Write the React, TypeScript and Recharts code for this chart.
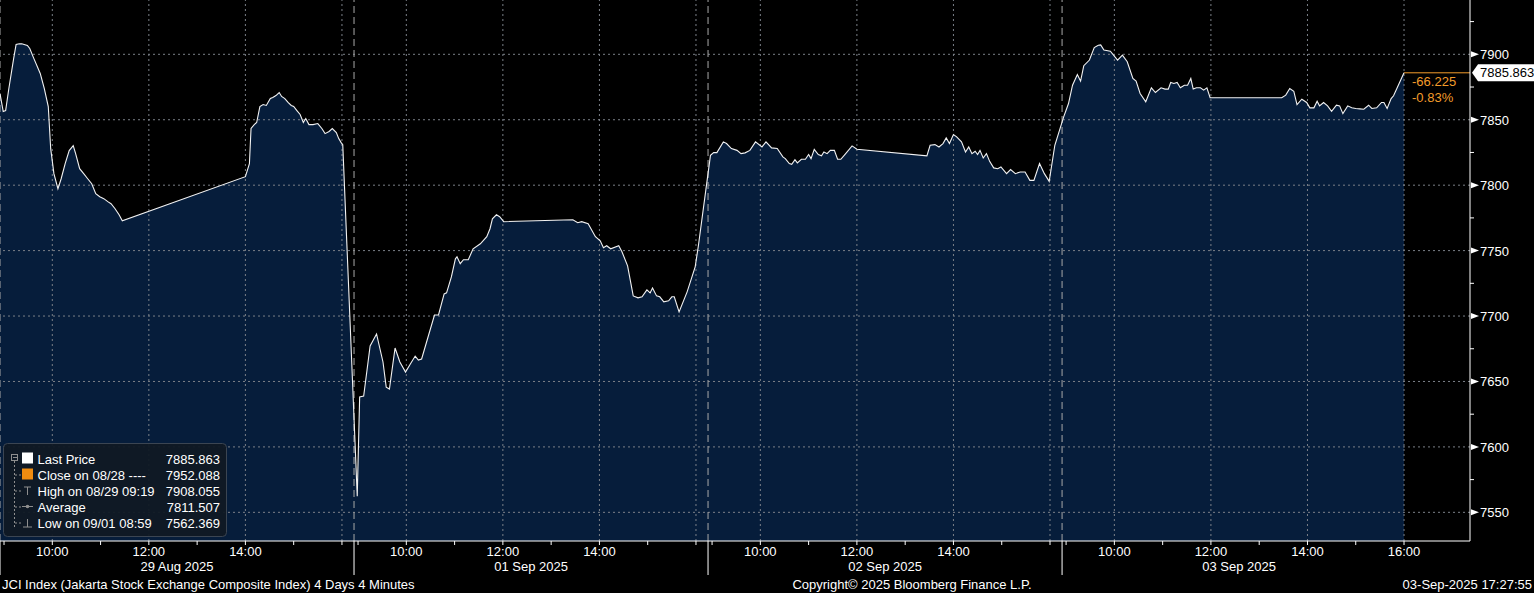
import React from 'react';
import { ComposedChart, Area, Line, XAxis, YAxis, ReferenceLine } from 'recharts';

// ---------- data ----------
const DAY_LABELS = ['29 Aug 2025', '01 Sep 2025', '02 Sep 2025', '03 Sep 2025'];

const aug29: [string, number][] = [
  ['08:55', 7870.0], ['08:59', 7856.3], ['09:02', 7857.0], ['09:06', 7873.9], ['09:10', 7889.2],
  ['09:12', 7896.9], ['09:15', 7907.6], ['09:19', 7908.055], ['09:22', 7908.0], ['09:29', 7906.8],
  ['09:32', 7904.5], ['09:37', 7896.9], ['09:45', 7885.4], ['09:50', 7873.9], ['09:55', 7860.1],
  ['09:58', 7827.9], ['10:02', 7808.8], ['10:07', 7797.3], ['10:11', 7804.9], ['10:16', 7816.4],
  ['10:21', 7826.4], ['10:26', 7830.2], ['10:29', 7824.1], ['10:34', 7812.6], ['10:39', 7808.8],
  ['10:44', 7804.9], ['10:49', 7801.1], ['10:54', 7793.5], ['10:59', 7791.2], ['11:04', 7789.7],
  ['11:09', 7787.4], ['11:13', 7785.8], ['11:18', 7782.0], ['11:23', 7777.4], ['11:27', 7772.8],
  ['14:00', 7806.5], ['14:05', 7816.4], ['14:07', 7843.3], ['14:11', 7846.3], ['14:14', 7847.9],
  ['14:18', 7860.1], ['14:22', 7861.6], ['14:26', 7860.9], ['14:31', 7866.2], ['14:34', 7867.0],
  ['14:38', 7868.5], ['14:42', 7870.8], ['14:45', 7867.8], ['14:49', 7866.2], ['14:53', 7863.2],
  ['14:57', 7860.9], ['15:00', 7860.1], ['15:04', 7857.0], ['15:08', 7854.0], ['15:12', 7847.9],
  ['15:15', 7850.9], ['15:19', 7846.3], ['15:24', 7846.3], ['15:30', 7847.1], ['15:35', 7843.3],
  ['15:39', 7839.4], ['15:44', 7841.0], ['15:48', 7843.3], ['15:53', 7840.2], ['15:56', 7835.6],
  ['15:59', 7832.5], ['16:01', 7831.0],
];

const sep01: [string, number][] = [
  ['08:59', 7562.369], ['09:02', 7638.1], ['09:07', 7638.8], ['09:15', 7677.1], ['09:23', 7686.3],
  ['09:31', 7664.9], ['09:35', 7645.7], ['09:39', 7644.2], ['09:46', 7675.6], ['09:52', 7664.9],
  ['09:59', 7657.2], ['10:05', 7663.3], ['10:11', 7669.4], ['10:15', 7666.4], ['10:19', 7667.2],
  ['10:27', 7684.0], ['10:35', 7700.8], ['10:40', 7700.8], ['10:47', 7716.9], ['10:50', 7717.7],
  ['10:56', 7729.9], ['11:01', 7743.7], ['11:03', 7745.3], ['11:07', 7740.0], ['11:11', 7743.0],
  ['11:17', 7743.0], ['11:23', 7751.4], ['11:32', 7755.2], ['11:40', 7760.6], ['11:44', 7766.7],
  ['11:47', 7774.3], ['11:52', 7777.4], ['11:56', 7775.9], ['12:01', 7772.1], ['13:27', 7773.6],
  ['13:33', 7771.3], ['13:38', 7772.1], ['13:46', 7770.6], ['13:55', 7760.6], ['14:01', 7757.5],
  ['14:05', 7752.2], ['14:09', 7753.7], ['14:14', 7751.4], ['14:24', 7753.7], ['14:28', 7749.1],
  ['14:35', 7738.4], ['14:42', 7715.4], ['14:48', 7713.9], ['14:53', 7714.7], ['14:59', 7720.0],
  ['15:03', 7717.7], ['15:06', 7721.5], ['15:11', 7715.4], ['15:15', 7714.7], ['15:20', 7710.8],
  ['15:26', 7711.6], ['15:30', 7714.7], ['15:33', 7714.7], ['15:39', 7703.1], ['15:49', 7718.5],
  ['15:59', 7737.6], ['16:03', 7753.7],
];

const sep02: [string, number][] = [
  ['08:58', 7822.8], ['09:02', 7824.9], ['09:06', 7824.9], ['09:14', 7833.1], ['09:18', 7831.8],
  ['09:24', 7828.0], ['09:31', 7826.6], ['09:36', 7824.1], ['09:41', 7824.7], ['09:47', 7826.6],
  ['09:54', 7833.1], ['10:02', 7829.2], ['10:07', 7833.1], ['10:14', 7828.5], ['10:21', 7828.0],
  ['10:28', 7821.6], ['10:31', 7820.3], ['10:36', 7816.5], ['10:39', 7815.9], ['10:43', 7819.5],
  ['10:46', 7817.0], ['10:51', 7819.8], ['10:56', 7819.8], ['11:00', 7823.4], ['11:03', 7820.3],
  ['11:07', 7827.4], ['11:12', 7823.4], ['11:16', 7822.4], ['11:19', 7825.4], ['11:23', 7824.1],
  ['11:27', 7826.6], ['11:32', 7826.6], ['11:36', 7819.8], ['11:40', 7819.8], ['11:45', 7823.4],
  ['11:54', 7830.0], ['12:00', 7827.4], ['13:27', 7822.4], ['13:31', 7830.5], ['13:37', 7831.0],
  ['13:42', 7829.2], ['13:47', 7831.8], ['13:51', 7836.1], ['13:55', 7831.8], ['14:00', 7838.7],
  ['14:04', 7836.9], ['14:10', 7833.1], ['14:15', 7825.4], ['14:19', 7829.2], ['14:23', 7824.1],
  ['14:27', 7825.9], ['14:30', 7823.4], ['14:33', 7826.6], ['14:37', 7820.8], ['14:41', 7824.1],
  ['14:45', 7818.2], ['14:50', 7813.2], ['14:55', 7812.6], ['14:59', 7813.9], ['15:06', 7808.8],
  ['15:11', 7811.9], ['15:17', 7808.8], ['15:23', 7810.1], ['15:29', 7810.1], ['15:35', 7803.7],
  ['15:40', 7803.7], ['15:47', 7816.5], ['15:53', 7808.8], ['15:59', 7802.9], ['16:06', 7830.5],
];

const sep03: [string, number][] = [
  ['08:57', 7852.2], ['09:03', 7862.4], ['09:08', 7876.4], ['09:14', 7884.6], ['09:18', 7879.5],
  ['09:22', 7891.3], ['09:29', 7895.6], ['09:35', 7905.1], ['09:40', 7906.9], ['09:43', 7907.2],
  ['09:47', 7903.2], ['09:55', 7902.4], ['10:04', 7895.6], ['10:10', 7899.4], ['10:16', 7894.3],
  ['10:23', 7881.5], ['10:27', 7879.5], ['10:32', 7870.1], ['10:39', 7863.7], ['10:46', 7874.4],
  ['10:51', 7870.8], ['10:58', 7874.4], ['11:03', 7873.4], ['11:07', 7873.4], ['11:10', 7878.5],
  ['11:14', 7877.7], ['11:18', 7878.5], ['11:22', 7874.4], ['11:27', 7876.4], ['11:31', 7876.4],
  ['11:35', 7881.5], ['11:38', 7873.4], ['11:42', 7874.4], ['11:47', 7874.4], ['11:51', 7872.6],
  ['11:55', 7874.4], ['11:59', 7866.8], ['13:28', 7866.8], ['13:33', 7868.8], ['13:38', 7873.9],
  ['13:43', 7871.8], ['13:47', 7861.6], ['13:53', 7865.7], ['13:59', 7863.2], ['14:03', 7859.1],
  ['14:08', 7859.1], ['14:12', 7864.2], ['14:15', 7860.6], ['14:20', 7863.2], ['14:25', 7860.6],
  ['14:30', 7856.5], ['14:36', 7861.1], ['14:40', 7860.6], ['14:44', 7854.7], ['14:50', 7860.6],
  ['14:55', 7859.1], ['15:00', 7858.6], ['15:05', 7858.3], ['15:10', 7858.0], ['15:16', 7861.1],
  ['15:20', 7858.6], ['15:26', 7859.1], ['15:32', 7863.2], ['15:35', 7863.2], ['15:39', 7858.6],
  ['15:44', 7866.2], ['15:47', 7868.3], ['16:00', 7885.863],
];

const DAYS = [aug29, sep01, sep02, sep03];

const LAST_PRICE = 7885.863;
const PREV_CLOSE = 7952.088;
const CHANGE = -66.225;
const CHANGE_PCT = '-0.83%';
const HIGH = 7908.055;
const AVERAGE = 7811.507;
const LOW = 7562.369;

const Y_MAJOR = [7550, 7600, 7650, 7700, 7750, 7800, 7850, 7900];
const Y_MINOR = [7575, 7625, 7675, 7725, 7775, 7825, 7875, 7925];
const HOUR_TICKS = [9, 10, 11, 12, 13, 14, 15, 16];
const GRID_HOURS = [10, 12, 14, 16];
const LABEL_HOURS = [10, 12, 14];

// session axis: each day runs 08:55 -> 16:15 (440 minutes)
const SESSION_START = 8 * 60 + 55;
const SESSION_LEN = 440;
const X_MAX = 1827;
const Y_DOMAIN: [number, number] = [7528.1, 7941.5];

const toMin = (t: string) => {
  const [h, m] = t.split(':').map(Number);
  return h * 60 + m;
};
const dayX = (d: number, minutes: number) => d * SESSION_LEN + minutes - SESSION_START;

const data = DAYS.flatMap((day, d) => day.map(([t, v]) => ({ x: dayX(d, toMin(t)), v })));
const LAST_X = data[data.length - 1].x;

// ---------- x axis tick catalogue ----------
type XKind = { type: 'hour'; label?: string } | { type: 'sep' } | { type: 'date'; label: string };
const xKinds = new Map<number, XKind>();
DAY_LABELS.forEach((lab, d) => {
  xKinds.set(dayX(d, SESSION_START), { type: 'sep' });
  xKinds.set(d * SESSION_LEN + SESSION_LEN / 2, { type: 'date', label: lab });
  HOUR_TICKS.forEach((h) => {
    const show = LABEL_HOURS.includes(h) || (d === DAY_LABELS.length - 1 && h === 16);
    xKinds.set(dayX(d, h * 60), { type: 'hour', label: show ? `${h}:00` : undefined });
  });
});
const X_TICKS = Array.from(xKinds.keys()).sort((a, b) => a - b);
const V_GRID = DAY_LABELS.flatMap((_, d) => GRID_HOURS.map((h) => dayX(d, h * 60)));
const DAY_SEPS = DAY_LABELS.map((_, d) => d * SESSION_LEN);

const FONT = "'Liberation Sans', Arial, sans-serif";
const ORANGE = '#f39c2b';
const GRID = '#7b8088';

const XTick = (props: any) => {
  const { x, y, payload } = props;
  const k = xKinds.get(payload.value);
  if (!k) return null;
  if (k.type === 'sep') return <line x1={x} x2={x} y1={y} y2={y + 34} stroke="#ffffff" strokeWidth={1} />;
  if (k.type === 'date')
    return (
      <text x={x} y={y + 30} textAnchor="middle" fill="#ffffff" fontSize={13} fontFamily={FONT}>
        {k.label}
      </text>
    );
  return (
    <g>
      <line x1={x} x2={x} y1={y} y2={y + 4} stroke="#ffffff" strokeWidth={1} />
      {k.label && (
        <text x={x} y={y + 15} textAnchor="middle" fill="#ffffff" fontSize={13} fontFamily={FONT}>
          {k.label}
        </text>
      )}
    </g>
  );
};

const YTick = (props: any) => {
  const { x, y, payload } = props;
  const v = payload.value;
  if (v === LAST_PRICE) {
    return (
      <g>
        <path d={`M${x + 2},${y} L${x + 8},${y - 8.5} L${x + 64},${y - 8.5} L${x + 64},${y + 8.5} L${x + 8},${y + 8.5} Z`} fill="#ffffff" />
        <text x={x + 10} y={y + 4.5} fill="#000000" fontSize={13} fontFamily={FONT}>
          {LAST_PRICE.toFixed(3)}
        </text>
      </g>
    );
  }
  if (Y_MAJOR.includes(v)) {
    return (
      <g>
        <path d={`M${x + 1},${y - 3} L${x + 9},${y} L${x + 1},${y + 3} Z`} fill="#ffffff" />
        <text x={x + 10} y={y + 5} fill="#ffffff" fontSize={13} fontFamily={FONT}>
          {v}
        </text>
      </g>
    );
  }
  return <line x1={x} x2={x + 4} y1={y} y2={y} stroke="#ffffff" strokeWidth={1} />;
};

const ChangeLabel = (props: any) => {
  const vb = props.viewBox || {};
  const x = (vb.x ?? 0) + 8;
  const y = vb.y ?? 0;
  return (
    <g>
      <text x={x} y={y + 13} fill={ORANGE} fontSize={13} fontFamily={FONT}>
        {CHANGE.toFixed(3)}
      </text>
      <text x={x} y={y + 29} fill={ORANGE} fontSize={13} fontFamily={FONT}>
        {CHANGE_PCT}
      </text>
    </g>
  );
};

const LEGEND_ROWS = [
  { label: 'Last Price', value: LAST_PRICE.toFixed(3) },
  { label: 'Close on 08/28 ----', value: PREV_CLOSE.toFixed(3) },
  { label: 'High on 08/29 09:19', value: HIGH.toFixed(3) },
  { label: 'Average', value: AVERAGE.toFixed(3) },
  { label: 'Low on 09/01 08:59', value: LOW.toFixed(3) },
];

const Legend = () => {
  const base = 464;
  const step = 16;
  const icon = '#8e8e8e';
  return (
    <g fontFamily={FONT} fontSize={13}>
      <rect x={3.5} y={443.5} width={223} height={93} rx={4} fill="#101924" fillOpacity={0.95} stroke="#3b4552" />
      <rect x={11.5} y={454.5} width={6} height={6} fill="none" stroke={icon} />
      <line x1={13} x2={17} y1={457.5} y2={457.5} stroke={icon} />
      <line x1={14.5} x2={14.5} y1={461} y2={527} stroke={icon} strokeDasharray="2 2" />
      {LEGEND_ROWS.map((r, i) => {
        const cy = base + i * step - 5;
        return (
          <g key={r.label}>
            {i > 0 && <line x1={15} x2={21} y1={cy} y2={cy} stroke={icon} strokeDasharray="2 2" />}
            <text x={37.5} y={base + i * step} fill="#ffffff">
              {r.label}
            </text>
            <text x={220} y={base + i * step} fill="#ffffff" textAnchor="end">
              {r.value}
            </text>
          </g>
        );
      })}
      <rect x={22} y={452.5} width={11} height={11} fill="#ffffff" />
      <rect x={22} y={468.5} width={11} height={11} fill="#f08c10" />
      <line x1={27.5} x2={27.5} y1={487} y2={495} stroke={icon} />
      <line x1={24} x2={31} y1={487} y2={487} stroke={icon} />
      <line x1={22} x2={33} y1={506.5} y2={506.5} stroke={icon} />
      <circle cx={27.5} cy={506.5} r={1.8} fill={icon} />
      <line x1={27.5} x2={27.5} y1={519} y2={527} stroke={icon} />
      <line x1={23} x2={32} y1={527} y2={527} stroke={icon} />
    </g>
  );
};

export default function App() {
  return (
    <div style={{ position: 'absolute', left: 0, top: 0, width: 1534, height: 593, background: '#000000', fontFamily: FONT }}>
      <ComposedChart width={1534} height={593} data={data} margin={{ top: 0, right: 0, bottom: 0, left: 0 }}>
        <XAxis
          dataKey="x"
          type="number"
          domain={[0, X_MAX]}
          ticks={X_TICKS}
          interval={0}
          tick={(p: any) => <XTick {...p} />}
          tickLine={false}
          tickSize={0}
          tickMargin={0}
          axisLine={{ stroke: '#ffffff', strokeWidth: 1 }}
          height={52}
          allowDataOverflow
        />
        <YAxis
          orientation="right"
          type="number"
          domain={Y_DOMAIN}
          ticks={[...Y_MAJOR, ...Y_MINOR, LAST_PRICE]}
          interval={0}
          tick={(p: any) => <YTick {...p} />}
          tickLine={false}
          tickSize={0}
          tickMargin={0}
          axisLine={{ stroke: '#ffffff', strokeWidth: 1 }}
          width={64}
          allowDataOverflow
        />
        <Area
          type="linear"
          dataKey="v"
          stroke="none"
          fill="#061d3b"
          fillOpacity={1}
          baseValue="dataMin"
          isAnimationActive={false}
          dot={false}
          activeDot={false}
          zIndex={100}
        />
        {Y_MAJOR.map((v) => (
          <ReferenceLine key={`h${v}`} y={v} stroke={GRID} strokeDasharray="2 3" strokeWidth={1} zIndex={300} />
        ))}
        {V_GRID.map((v) => (
          <ReferenceLine key={`v${v}`} x={v} stroke={GRID} strokeDasharray="2 3" strokeWidth={1} zIndex={300} />
        ))}
        {DAY_SEPS.map((v) => (
          <ReferenceLine key={`s${v}`} x={v} stroke="#a9a9a9" strokeDasharray="7 4" strokeWidth={1} zIndex={300} />
        ))}
        <ReferenceLine
          segment={[
            { x: LAST_X, y: LAST_PRICE },
            { x: X_MAX, y: LAST_PRICE },
          ]}
          stroke={ORANGE}
          strokeWidth={1}
          label={<ChangeLabel />}
          zIndex={350}
        />
        <Line
          type="linear"
          dataKey="v"
          stroke="#f2f2f2"
          strokeWidth={1.1}
          dot={false}
          activeDot={false}
          isAnimationActive={false}
          zIndex={400}
        />
      </ComposedChart>
      <svg width={1534} height={593} style={{ position: 'absolute', left: 0, top: 0, pointerEvents: 'none' }}>
        <Legend />
        <g fontFamily={FONT} fontSize={13} fill="#ffffff">
          <text x={2} y={589}>JCI Index (Jakarta Stock Exchange Composite Index) 4 Days 4 Minutes</text>
          <text x={912} y={589} textAnchor="middle">Copyright© 2025 Bloomberg Finance L.P.</text>
          <text x={1532} y={589} textAnchor="end">03-Sep-2025 17:27:55</text>
        </g>
      </svg>
    </div>
  );
}
